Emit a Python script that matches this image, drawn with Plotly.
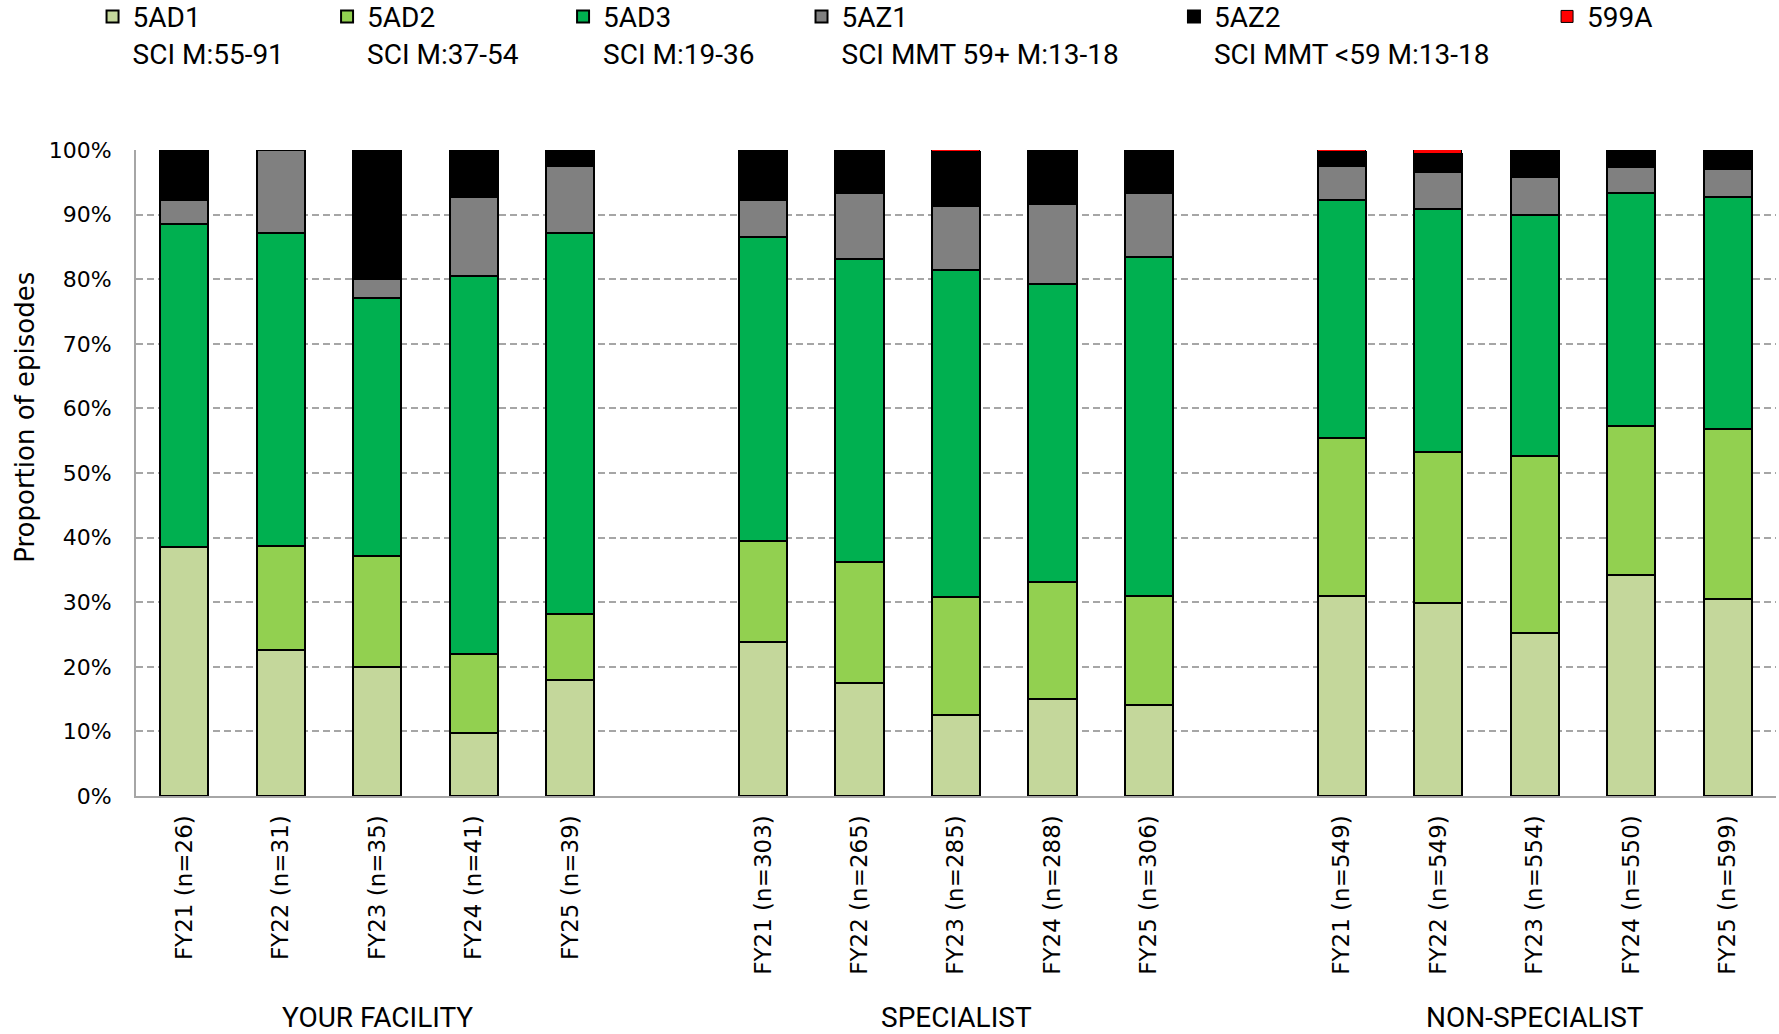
import plotly.graph_objects as go

# Stacked proportions (%) of episodes by class, per facility group and year
groups = ["YOUR FACILITY", "SPECIALIST", "NON-SPECIALIST"]
years = ["FY21", "FY22", "FY23", "FY24", "FY25"]
episode_counts = [26, 31, 35, 41, 39,
                  303, 265, 285, 288, 306,
                  549, 549, 554, 550, 599]

class_codes = ["5AD1", "5AD2", "5AD3", "5AZ1", "5AZ2", "599A"]
class_desc = ["SCI M:55-91", "SCI M:37-54", "SCI M:19-36",
              "SCI MMT 59+ M:13-18", "SCI MMT <59 M:13-18", ""]

pct_5ad1 = [38.5, 22.6, 20.0, 9.8, 17.9, 23.9, 17.5, 12.5, 15.0, 14.1, 31.0, 29.8, 25.2, 34.2, 30.5]
pct_5ad2 = [0.0, 16.1, 17.1, 12.2, 10.3, 15.6, 18.8, 18.3, 18.2, 16.9, 24.4, 23.5, 27.5, 23.0, 26.3]
pct_5ad3 = [50.0, 48.4, 40.0, 58.5, 59.0, 47.1, 46.9, 50.6, 46.0, 52.4, 36.8, 37.6, 37.2, 36.1, 36.0]
pct_5az1 = [3.8, 12.9, 2.9, 12.2, 10.3, 5.7, 10.1, 10.0, 12.5, 9.9, 5.4, 5.7, 5.9, 4.0, 4.2]
pct_5az2 = [7.7, 0.0, 20.0, 7.3, 2.6, 7.7, 6.7, 8.25, 8.3, 6.7, 2.1, 2.85, 4.2, 2.7, 3.0]
pct_599a = [0.0, 0.0, 0.0, 0.0, 0.0, 0.0, 0.0, 0.35, 0.0, 0.0, 0.3, 0.55, 0.0, 0.0, 0.0]

class_colors = ["#c4d79b", "#92d050", "#00b050", "#808080", "#000000", "#ff0000"]
outline_widths = [2, 2, 2, 2, 2, 1]
series = [pct_5ad1, pct_5ad2, pct_5ad3, pct_5az1, pct_5az2, pct_599a]

y_ticks = list(range(0, 101, 10))
y_tick_text = [f"{v}%" for v in y_ticks]

# One blank slot separates the groups on the category axis
slot_per_group = len(years) + 1
x_pos = [g * slot_per_group + i for g in range(len(groups)) for i in range(len(years))]
tick_text = [f"{years[i]} (n={episode_counts[g * len(years) + i]})"
             for g in range(len(groups)) for i in range(len(years))]
group_centers = [g * slot_per_group + (len(years) - 1) / 2 for g in range(len(groups))]

# Each class gets its own single-entry legend so the entries sit in fixed columns
legend_names = ["legend", "legend2", "legend3", "legend4", "legend5", "legend6"]
legend_x = [-0.0265, 0.1165, 0.2604, 0.4058, 0.6329, 0.8604]

fig = go.Figure()
for k, (code, desc, vals, col) in enumerate(zip(class_codes, class_desc, series, class_colors)):
    name = f"{code}<br>{desc}" if desc else code
    fig.add_trace(go.Bar(
        x=x_pos, y=vals, name=name, width=0.5,
        marker=dict(color=col, line=dict(color="#000000", width=outline_widths[k])),
        legend=legend_names[k],
    ))

layout_legends = {}
for k, ln in enumerate(legend_names):
    layout_legends[ln] = dict(
        x=legend_x[k], xanchor="left", y=1.245, yanchor="top",
        orientation="h", valign="top", bgcolor="rgba(0,0,0,0)",
        font=dict(family="Roboto", size=28, color="#000000"),
        itemclick=False, itemdoubleclick=False,
    )

annotations = [
    dict(x=c, xref="x", y=-0.343, yref="paper", text=g, showarrow=False,
         font=dict(family="Roboto", size=28, color="#000000"),
         xanchor="center", yanchor="middle")
    for c, g in zip(group_centers, groups)
]
annotations.append(dict(
    x=-0.0677, xref="paper", y=0.587, yref="paper", text="Proportion of episodes",
    textangle=-90, showarrow=False, xanchor="center", yanchor="middle",
    font=dict(family="DejaVu Sans", size=26, color="#000000"),
))

fig.update_layout(
    barmode="stack",
    width=1779, height=1034,
    margin=dict(l=136, r=3, t=150, b=238, autoexpand=False),
    plot_bgcolor="#ffffff", paper_bgcolor="#ffffff",
    bargap=0,
    showlegend=True,
    annotations=annotations,
    **layout_legends,
)

fig.update_xaxes(
    range=[-0.5, len(groups) * slot_per_group - 1 - 0.5],
    tickmode="array", tickvals=x_pos, ticktext=tick_text, tickangle=-90,
    tickfont=dict(family="DejaVu Sans", size=23, color="#000000"),
    ticks="", ticklabelstandoff=8,
    showgrid=False, showline=True, linecolor="#a6a6a6", linewidth=2,
    zeroline=False,
)
fig.update_yaxes(
    range=[0, 100], tickmode="array", tickvals=y_ticks, ticktext=y_tick_text,
    tickfont=dict(family="DejaVu Sans", size=22, color="#000000"),
    showgrid=True, gridcolor="#a6a6a6", gridwidth=1.5, griddash="7px,4px",
    showline=True, linecolor="#a6a6a6", linewidth=2, zeroline=False,
    ticks="", ticklabelstandoff=18,
)

fig.write_html("out.html")
